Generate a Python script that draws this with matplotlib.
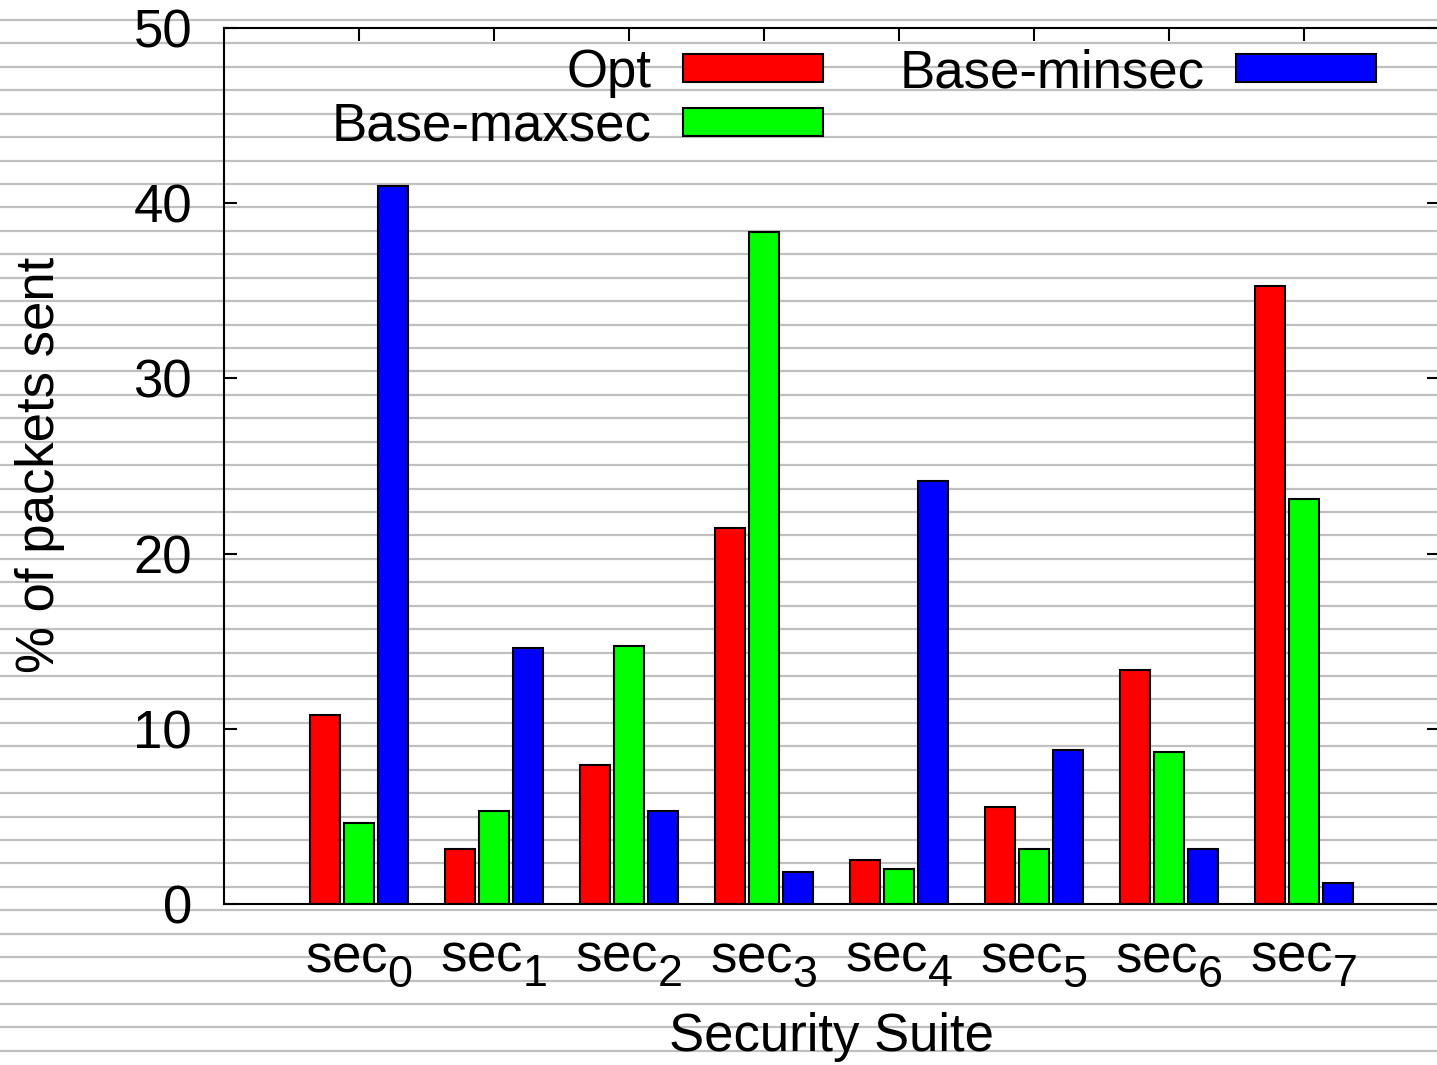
import matplotlib
matplotlib.use("Agg")
import matplotlib.pyplot as plt
import matplotlib._mathtext as _mt
from matplotlib.lines import Line2D
import numpy as np

plt.rcParams['font.family'] = ['Liberation Sans', 'DejaVu Sans']
plt.rcParams['mathtext.fontset'] = 'custom'
plt.rcParams['mathtext.rm'] = 'Liberation Sans'
plt.rcParams['mathtext.it'] = 'Liberation Sans'
# larger, lower subscripts (gnuplot-like)
_mt.SHRINK_FACTOR = 0.85
_mt.FontConstantsBase.sub1 = 0.55

# ---- data ----
categories = [r'sec$_{%d}$' % i for i in range(8)]
series_names = ['Opt', 'Base-maxsec', 'Base-minsec']
opt = [10.8, 3.15, 7.95, 21.45, 2.5, 5.55, 13.35, 35.25]
base_maxsec = [4.6, 5.3, 14.75, 38.35, 2.0, 3.15, 8.7, 23.1]
base_minsec = [41.0, 14.6, 5.3, 1.8, 24.15, 8.8, 3.15, 1.2]
colors = ['#ff0000', '#00ff00', '#0000ff']
yticks = [0, 10, 20, 30, 40, 50]

FS = 38
W, H = 1437, 1065
fig = plt.figure(figsize=(W / 100, H / 100), dpi=100)
fig.patch.set_facecolor('white')

# decorative background stripes across whole figure
for k in range(45):
    ypix = 20 + 23.43 * k
    if ypix > H:
        break
    fig.add_artist(Line2D([0, 1], [1 - ypix / H, 1 - ypix / H], transform=fig.transFigure,
                          color='#c0c0c0', lw=1.6, zorder=-10))

ax = fig.add_axes([224 / W, (H - 904) / H, (1439 - 224) / W, (904 - 28) / H])
ax.set_facecolor('none')

x = np.arange(len(categories))
width = 0.225
offsets = [-0.25, 0.0, 0.25]
handles = []
for vals, off, c, name in zip([opt, base_maxsec, base_minsec], offsets, colors, series_names):
    b = ax.bar(x + off, vals, width, color=c, edgecolor='black', linewidth=1.5, label=name, zorder=2)
    handles.append(b)

ax.set_xlim(-1, 8)
ax.set_ylim(0, 50)
ax.set_xticks(x)
ax.set_xticklabels(categories)
ax.set_yticks(yticks)
ax.tick_params(axis='x', bottom=False, top=True, direction='in', length=9, width=1.5,
               labelsize=FS, pad=25)
ax.tick_params(axis='y', left=True, right=True, direction='in', length=9, width=1.5,
               labelsize=FS, pad=23)
for s in ax.spines.values():
    s.set_linewidth(1.5)

ax.set_ylabel('% of packets sent', fontsize=FS)
ax.yaxis.set_label_coords(-(224 - 40) / (1439 - 224), (904 - 465) / (904 - 28))
ax.yaxis.label.set_va('center')
ax.set_xlabel('Security Suite', fontsize=FS)
ax.xaxis.set_label_coords((831 - 224) / (1439 - 224), -(1037 - 904) / (904 - 28))
ax.xaxis.label.set_va('center')

leg = ax.legend(handles=handles, labels=series_names, ncol=2, markerfirst=False, frameon=False,
                fontsize=FS, loc='upper right', bbox_to_anchor=(1376 / W, 1 - 48 / H),
                bbox_transform=fig.transFigure, borderpad=0, borderaxespad=0,
                handlelength=2.65, handleheight=0.42, handletextpad=0.6,
                columnspacing=1.45, labelspacing=0.07)
for p in leg.get_patches():
    p.set_linewidth(1.5)

fig.savefig('out.png', dpi=100)
